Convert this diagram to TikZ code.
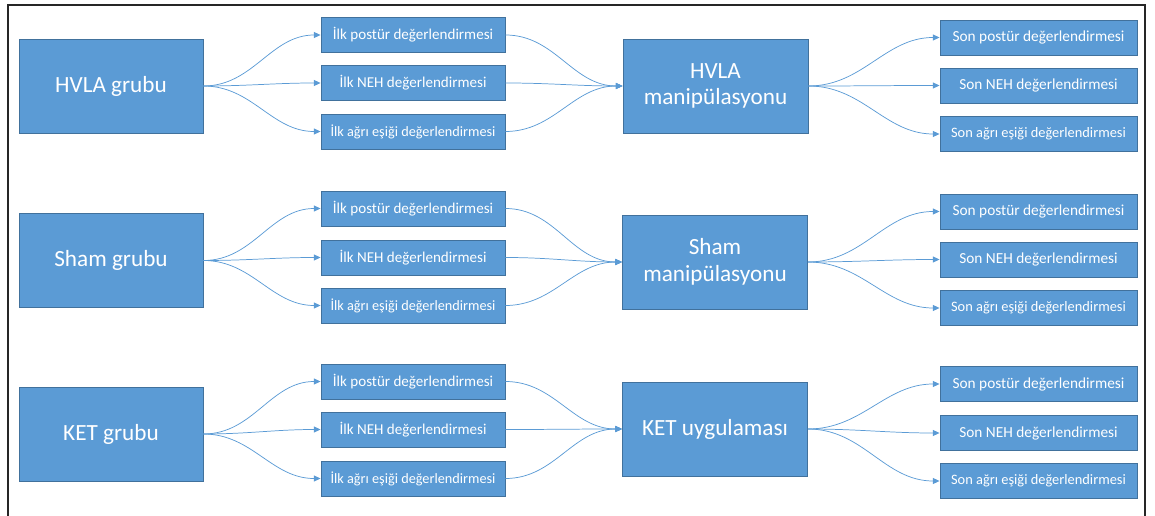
\documentclass[tikz,border=0pt]{standalone}
\usepackage{fontspec}
\setmainfont{Carlito}
\usetikzlibrary{arrows.meta}
\definecolor{boxfill}{HTML}{5B9BD5}
\definecolor{boxline}{HTML}{41719C}
\definecolor{connc}{HTML}{5B9BD5}
\tikzset{
  bigbox/.style={rectangle, fill=boxfill, draw=boxline, line width=0.7pt, inner sep=0pt,
    text=white, align=center, font=\fontsize{17.4}{20}\selectfont},
  ilkbox/.style={rectangle, fill=boxfill, draw=boxline, line width=0.7pt, inner sep=0pt,
    minimum width=138pt, minimum height=26.25pt, text=white, font=\fontsize{11.3}{13}\selectfont},
  ilksmall/.style={font=\fontsize{10.7}{12.5}\selectfont},
  sonbox/.style={rectangle, fill=boxfill, draw=boxline, line width=0.7pt, inner sep=0pt,
    minimum width=147.75pt, minimum height=26.25pt, text=white, font=\fontsize{11.5}{13}\selectfont},
  sonsmall/.style={font=\fontsize{10.8}{12.5}\selectfont},
  conn/.style={draw=connc, line width=0.55pt, -{Triangle[length=5pt,width=4.5pt]}},
}
\begin{document}
\begin{tikzpicture}[x=0.75pt,y=-0.75pt]
\useasboundingbox (0,0) rectangle (1155,516);
% frame (open at the bottom)
\draw[line width=1.2pt, black!85] (8,520) -- (8,5) -- (1145,5) -- (1145,520);

% ---------- row 1 ----------
\node[bigbox, minimum width=138pt, minimum height=70.5pt] (g1) at (111,86) {HVLA grubu};
\node[ilkbox] (i1a) at (413,35) {İlk postür değerlendirmesi};
\node[ilkbox] (i1b) at (413,83) {İlk NEH değerlendirmesi};
\node[ilkbox, ilksmall] (i1c) at (413,131.5) {İlk ağrı eşiği değerlendirmesi};
\node[bigbox, minimum width=138.75pt, minimum height=70.5pt] (m1) at (715.5,86) {HVLA\\manipülasyonu};
\node[sonbox] (s1a) at (1038.5,37.5) {Son postür değerlendirmesi};
\node[sonbox] (s1b) at (1038.5,85.5) {Son NEH değerlendirmesi};
\node[sonbox, sonsmall] (s1c) at (1038.5,134) {Son ağrı eşiği değerlendirmesi};

% ---------- row 2 ----------
\node[bigbox, minimum width=138pt, minimum height=71pt] (g2) at (111,260.5) {Sham grubu};
\node[ilkbox] (i2a) at (413,208.5) {İlk postür değerlendirmesi};
\node[ilkbox] (i2b) at (413,257.5) {İlk NEH değerlendirmesi};
\node[ilkbox, ilksmall] (i2c) at (413,305.5) {İlk ağrı eşiği değerlendirmesi};
\node[bigbox, minimum width=138.75pt, minimum height=70.5pt] (m2) at (715,262) {Sham\\manipülasyonu};
\node[sonbox] (s2a) at (1038.5,211.5) {Son postür değerlendirmesi};
\node[sonbox] (s2b) at (1038.5,259.5) {Son NEH değerlendirmesi};
\node[sonbox, sonsmall] (s2c) at (1038.5,308) {Son ağrı eşiği değerlendirmesi};

% ---------- row 3 ----------
\node[bigbox, minimum width=138pt, minimum height=70.5pt] (g3) at (111,434) {KET grubu};
\node[ilkbox] (i3a) at (413,381.5) {İlk postür değerlendirmesi};
\node[ilkbox] (i3b) at (413,429.5) {İlk NEH değerlendirmesi};
\node[ilkbox, ilksmall] (i3c) at (413,478.5) {İlk ağrı eşiği değerlendirmesi};
\node[bigbox, minimum width=138.75pt, minimum height=70.5pt] (m3) at (715,429) {KET uygulaması};
\node[sonbox] (s3a) at (1038.5,384) {Son postür değerlendirmesi};
\node[sonbox] (s3b) at (1038.5,433) {Son NEH değerlendirmesi};
\node[sonbox, sonsmall] (s3c) at (1038.5,481) {Son ağrı eşiği değerlendirmesi};

% ---------- connectors ----------
\foreach \r in {1,2,3}{
  \foreach \k in {a,b,c}{
    \draw[conn] (g\r.east) to[out=0,in=180] (i\r\k.west);
    \draw[conn] (i\r\k.east) to[out=0,in=180] (m\r.west);
    \draw[conn] (m\r.east) to[out=0,in=180] (s\r\k.west);
  }
}
\end{tikzpicture}
\end{document}
